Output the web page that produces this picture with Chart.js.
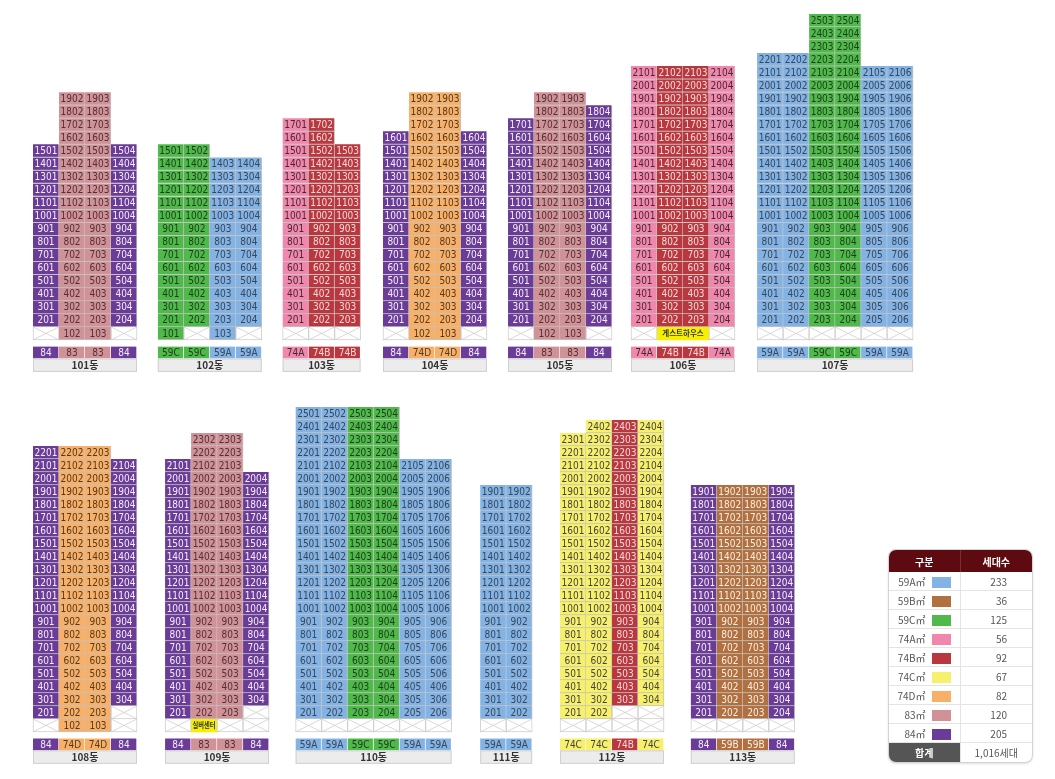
<!DOCTYPE html>
<html lang="ko">
<head>
<meta charset="utf-8">
<title>동호수 배치도</title>
<script src="https://cdn.jsdelivr.net/npm/chart.js@4.4.1/dist/chart.umd.min.js"></script>
<style>
  body { margin: 0; background: #fff; width: 1055px; height: 779px; position: relative; overflow: hidden;
         font-family: "Noto Sans CJK KR", "Noto Sans", sans-serif; }
  canvas { position: absolute; left: 0; }
  #top { top: 0; }
  #bottom { top: 380px; }
  #legend { position: absolute; left: 889px; top: 550px; width: 143px; border-radius: 7px; overflow: hidden;
            box-shadow: 0 0 0 1px #d4d4d4, 0 1px 3px rgba(0,0,0,0.25); background: #fff; }
  #legend table { width: 100%; border-collapse: collapse; font-size: 10px; color: #555; }
  #legend th { background: #5d0b10; color: #fff; height: 22px; font-weight: bold; padding: 0; }
  #legend th:first-child { border-right: 1px solid #7d2c30; }
  #legend td { height: 18px; padding: 0; border-bottom: 1px solid #e4e4e4; }
  #legend td:first-child { width: 71px; border-right: 1px solid #e4e4e4; text-align: right; padding-right: 9px; box-sizing: border-box; }
  #legend td.num { text-align: right; padding-right: 25px; }
  #legend .sw { display: inline-block; width: 19px; height: 11px; margin-left: 6px; vertical-align: -2px; }
  #legend tfoot td { height: 19px; border-bottom: none; }
  #legend tfoot td.sum { background: #555; color: #fff; font-weight: bold; text-align: center; padding-right: 0; }
  #legend tfoot td.total { text-align: center; }
</style>
</head>
<body>
<canvas id="top" width="1055" height="380"></canvas>
<canvas id="bottom" width="1055" height="399"></canvas>
<div id="legend">
  <table>
    <thead><tr><th>구분</th><th>세대수</th></tr></thead>
    <tbody id="legend-body"></tbody>
    <tfoot><tr><td class="sum">합계</td><td class="total" id="legend-total"></td></tr></tfoot>
  </table>
</div>
<script>
// 평형별 세대수
const unitTypes = ['59A', '59B', '59C', '74A', '74B', '74C', '74D', '83', '84'];
const unitCounts = [233, 36, 125, 56, 92, 67, 82, 120, 205];
const totalLabel = '1,016세대';

// 동별 라인 구성 (1호 라인부터)
const buildingNames = ['101동', '102동', '103동', '104동', '105동', '106동', '107동',
                       '108동', '109동', '110동', '111동', '112동', '113동'];
const lineTypes = [
  ['84', '83', '83', '84'],
  ['59C', '59C', '59A', '59A'],
  ['74A', '74B', '74B'],
  ['84', '74D', '74D', '84'],
  ['84', '83', '83', '84'],
  ['74A', '74B', '74B', '74A'],
  ['59A', '59A', '59C', '59C', '59A', '59A'],
  ['84', '74D', '74D', '84'],
  ['84', '83', '83', '84'],
  ['59A', '59A', '59C', '59C', '59A', '59A'],
  ['59A', '59A'],
  ['74C', '74C', '74B', '74C'],
  ['84', '59B', '59B', '84']
];
// 라인별 최고층 / 최저층
const topFloors = [
  [15, 19, 19, 15],
  [15, 15, 14, 14],
  [17, 17, 15],
  [16, 19, 19, 16],
  [17, 19, 19, 18],
  [21, 21, 21, 21],
  [22, 22, 25, 25, 21, 21],
  [22, 22, 22, 21],
  [21, 23, 23, 20],
  [25, 25, 25, 25, 21, 21],
  [19, 19],
  [23, 24, 24, 24],
  [19, 19, 19, 19]
];
const lowFloors = [
  [2, 1, 1, 2],
  [1, 2, 1, 2],
  [2, 2, 2],
  [2, 1, 1, 2],
  [2, 1, 1, 2],
  [2, 2, 2, 2],
  [2, 2, 2, 2, 2, 2],
  [2, 1, 1, 3],
  [2, 2, 2, 3],
  [2, 2, 2, 2, 2, 2],
  [2, 2],
  [2, 2, 3, 3],
  [2, 2, 2, 2]
];
// 1층 커뮤니티 시설
const facilityBuildings = ['106동', '109동'];
const facilityLines = [[2, 3], [2]];
const facilityNames = ['게스트하우스', '실버센터'];

// 배치 (열 단위 위치)
const rowOf = [0, 0, 0, 0, 0, 0, 0, 1, 1, 1, 1, 1, 1];
const startCol = [0, 4.8, 9.6, 13.46, 18.27, 23.0, 27.85, 0, 5.08, 10.1, 17.2, 20.27, 25.3];

const typeColors = ['#83b3e4', '#b0703f', '#4fba4a', '#f088ae', '#b9383f', '#f6f06c', '#f8b068', '#d09197', '#6a3c97'];
const typeTextColors = ['#3a4656', '#fbeee4', '#1f3a1f', '#4a2832', '#f6dada', '#444', '#4e3b22', '#4e3236', '#f3eefa'];

const colorOf = t => typeColors[unitTypes.indexOf(t)] || '#fff';
const textColorOf = t => typeTextColors[unitTypes.indexOf(t)] || '#333';

// 범례 표
const body = document.getElementById('legend-body');
unitTypes.forEach((t, i) => {
  const tr = document.createElement('tr');
  tr.innerHTML = `<td>${t}㎡<span class="sw" style="background:${typeColors[i]}"></span></td><td class="num">${unitCounts[i]}</td>`;
  body.appendChild(tr);
});
document.getElementById('legend-total').textContent = totalLabel;

function rowData(row) {
  const units = [], empty = [], shops = [], tags = [], bands = [];
  buildingNames.forEach((name, b) => {
    if (rowOf[b] !== row) return;
    const k = facilityBuildings.indexOf(name);
    lineTypes[b].forEach((t, i) => {
      const x = startCol[b] + i + 0.5;
      const line = String(i + 1).padStart(2, '0');
      for (let f = lowFloors[b][i]; f <= topFloors[b][i]; f++) {
        units.push({ x, y: [f - 1, f], t, label: f + line });
      }
      for (let f = 1; f < lowFloors[b][i]; f++) {
        if (f === 1 && k >= 0 && facilityLines[k].includes(i + 1)) {
          shops.push({ x, y: [0, 1], label: facilityNames[k] });
        } else {
          empty.push({ x, y: [f - 1, f] });
        }
      }
      tags.push({ x, y: [-1.42, -0.5], t, label: t });
    });
    bands.push({ from: startCol[b], to: startCol[b] + lineTypes[b].length, label: name });
  });
  return { units, empty, shops, tags, bands };
}

const cellFont = '10px "Liberation Sans Narrow", "DejaVu Sans Condensed", Roboto, sans-serif';

const layoutPlugin = {
  id: 'layoutText',
  afterDatasetsDraw(chart, args, opts) {
    const ctx = chart.ctx;
    const xs = chart.scales.x, ys = chart.scales.y;
    ctx.save();
    ctx.textAlign = 'center';
    ctx.textBaseline = 'middle';

    // 빈 칸 X 표시
    chart.getDatasetMeta(1).data.forEach(el => {
      const { x, y, base, width } = el.getProps(['x', 'y', 'base', 'width'], true);
      ctx.strokeStyle = '#cfcfcf';
      ctx.lineWidth = 0.8;
      ctx.beginPath();
      ctx.moveTo(x - width / 2, y); ctx.lineTo(x + width / 2, base);
      ctx.moveTo(x + width / 2, y); ctx.lineTo(x - width / 2, base);
      ctx.stroke();
    });

    // 호수, 타입 라벨
    [0, 3].forEach(di => {
      const ds = chart.data.datasets[di];
      chart.getDatasetMeta(di).data.forEach((el, i) => {
        const raw = ds.data[i];
        const { x, y, base, width } = el.getProps(['x', 'y', 'base', 'width'], true);
        ctx.font = cellFont;
        ctx.fillStyle = textColorOf(raw.t);
        ctx.fillText(raw.label, x, (y + base) / 2 + 0.5, width - 3);
      });
    });

    // 시설 이름 (여러 칸 걸침)
    const shopDs = chart.data.datasets[2];
    const groups = {};
    chart.getDatasetMeta(2).data.forEach((el, i) => {
      const { x, y, base, width } = el.getProps(['x', 'y', 'base', 'width'], true);
      const key = shopDs.data[i].label;
      const g = groups[key] || (groups[key] = { l: Infinity, r: -Infinity, y, base });
      g.l = Math.min(g.l, x - width / 2);
      g.r = Math.max(g.r, x + width / 2);
    });
    Object.keys(groups).forEach(key => {
      const g = groups[key];
      ctx.font = 'bold 7.5px "Noto Sans CJK KR", sans-serif';
      ctx.fillStyle = '#333';
      ctx.fillText(key, (g.l + g.r) / 2, (g.y + g.base) / 2, g.r - g.l - 3);
    });

    // 동 이름 띠
    opts.bands.forEach(b => {
      const l = xs.getPixelForValue(b.from), r = xs.getPixelForValue(b.to);
      const t = ys.getPixelForValue(-1.42), btm = ys.getPixelForValue(-2.45);
      ctx.fillStyle = '#ececec';
      ctx.fillRect(l, t, r - l, btm - t);
      ctx.strokeStyle = '#d0d0d0';
      ctx.lineWidth = 1;
      ctx.strokeRect(l + 0.5, t + 0.5, r - l - 1, btm - t - 1);
      ctx.font = 'bold 10px "Noto Sans CJK KR", sans-serif';
      ctx.fillStyle = '#333';
      ctx.fillText(b.label, (l + r) / 2, (t + btm) / 2 + 0.5);
    });
    ctx.restore();
  }
};

function makeChart(id, row, yMin, yMax) {
  const d = rowData(row);
  return new Chart(document.getElementById(id), {
    type: 'bar',
    data: {
      datasets: [
        {
          label: '세대',
          data: d.units,
          backgroundColor: c => c.raw ? colorOf(c.raw.t) : '#fff',
          borderColor: '#c3c3c3',
          borderWidth: { top: 0, left: 0, right: 1, bottom: 1 }
        },
        {
          label: '비주거',
          data: d.empty,
          backgroundColor: '#fff',
          borderColor: '#cfcfcf',
          borderWidth: { top: 0, left: 1, right: 1, bottom: 1 }
        },
        {
          label: '시설',
          data: d.shops,
          backgroundColor: '#f7ef00',
          borderColor: '#f7ef00',
          borderWidth: 0
        },
        {
          label: '타입',
          data: d.tags,
          backgroundColor: c => c.raw ? colorOf(c.raw.t) : '#fff',
          borderColor: '#ffffff',
          borderWidth: { top: 0, left: 0, right: 1, bottom: 0 }
        }
      ]
    },
    options: {
      responsive: false,
      animation: false,
      devicePixelRatio: 1,
      layout: { padding: 0 },
      datasets: {
        bar: { grouped: false, categoryPercentage: 1, barPercentage: 1, borderSkipped: false }
      },
      scales: {
        x: { type: 'linear', display: false, offset: false, min: -33 / 26, max: (1055 - 33) / 26 },
        y: { type: 'linear', display: false, min: yMin, max: yMax }
      },
      plugins: {
        legend: { display: false },
        tooltip: { enabled: false },
        layoutText: { bands: d.bands }
      }
    },
    plugins: [layoutPlugin]
  });
}

makeChart('top', 0, -3.07, 26.07);
makeChart('bottom', 1, -3.62, 27.08);
</script>
</body>
</html>
